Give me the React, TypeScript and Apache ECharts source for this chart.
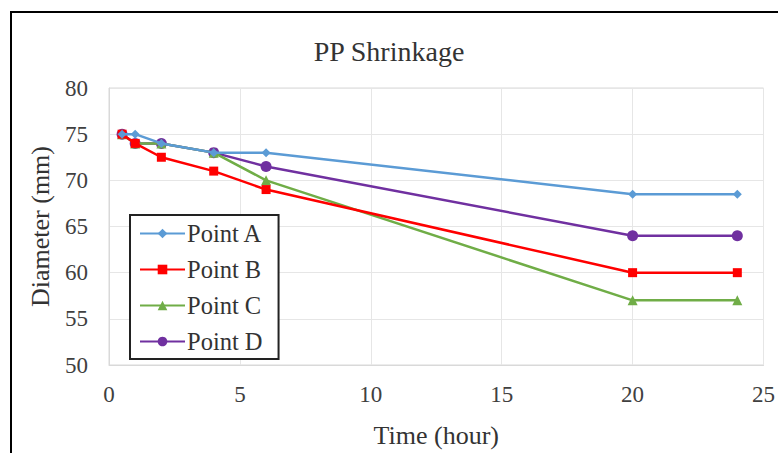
import React, { useEffect, useRef } from "react";
import * as echarts from "echarts";

const timeHours = [0.5, 1, 2, 4, 6, 20, 24];
const pointA = [75, 75, 74, 73, 73, 68.5, 68.5];
const pointB = [75, 74, 72.5, 71, 69, 60, 60];
const pointC = [75, 74, 74, 73, 70, 57, 57];
const pointD = [75, 74, 74, 73, 71.5, 64, 64];
const seriesNames = ["Point A", "Point B", "Point C", "Point D"];
const seriesColors = ["#5B9BD5", "#FF0000", "#70AD47", "#7030A0"];
const seriesSymbols = ["diamond", "rect", "triangle", "circle"];
const seriesSymbolSizes = [9, 9, 10, 11];

const FONT = "'Liberation Serif', 'Times New Roman', serif";

export default function App() {
  const ref = useRef<HTMLDivElement>(null);
  useEffect(() => {
    if (!ref.current) return;
    const chart = echarts.init(ref.current, null, { renderer: "svg" });
    const values = [pointA, pointB, pointC, pointD];
    chart.setOption({
      animation: false,
      backgroundColor: "#fff",
      title: {
        text: "PP Shrinkage",
        left: "center",
        top: 32,
        textStyle: { fontFamily: FONT, fontSize: 28, fontWeight: "normal", color: "#333" },
      },
      graphic: [
        {
          type: "rect",
          shape: { x: 11, y: 12, width: 820, height: 520 },
          style: { fill: "none", stroke: "#000", lineWidth: 2 },
          silent: true,
        },
      ],
      legend: {
        orient: "vertical",
        left: 130,
        top: 215,
        data: seriesNames,
        itemWidth: 45,
        itemHeight: 12,
        itemGap: 11,
        borderColor: "#222",
        borderWidth: 2,
        padding: [6, 16, 5, 9],
        backgroundColor: "#fff",
        textStyle: { fontFamily: FONT, fontSize: 24.5, color: "#333", padding: [0, 0, 0, -3] },
      },
      grid: {
        left: 109,
        right: 13,
        top: 88,
        bottom: 86,
        show: true,
        borderColor: "#d9d9d9",
        borderWidth: 1,
      },
      xAxis: {
        type: "value",
        min: 0,
        max: 25,
        interval: 5,
        name: "Time (hour)",
        nameLocation: "middle",
        nameGap: 57,
        nameTextStyle: { fontFamily: FONT, fontSize: 26, color: "#333" },
        axisLine: { show: true, lineStyle: { color: "#d9d9d9" } },
        axisTick: { show: false },
        axisLabel: { fontFamily: FONT, fontSize: 23, color: "#404040", margin: 18 },
        splitLine: { show: true, lineStyle: { color: "#e6e6e6" } },
      },
      yAxis: {
        type: "value",
        min: 50,
        max: 80,
        interval: 5,
        name: "Diameter (mm)",
        nameLocation: "middle",
        nameGap: 56,
        nameTextStyle: { fontFamily: FONT, fontSize: 26, color: "#333" },
        axisLine: { show: true, lineStyle: { color: "#d9d9d9" } },
        axisTick: { show: false },
        axisLabel: { fontFamily: FONT, fontSize: 23, color: "#404040", margin: 21 },
        splitLine: { show: true, lineStyle: { color: "#e6e6e6" } },
      },
      series: seriesNames.map((name, i) => ({
        name,
        type: "line",
        data: timeHours.map((t, j) => [t, values[i][j]]),
        symbol: seriesSymbols[i],
        symbolSize: seriesSymbolSizes[i],
        showAllSymbol: true,
        itemStyle: { color: seriesColors[i] },
        lineStyle: { color: seriesColors[i], width: 2.5 },
        z: 2 + (3 - i),
      })),
    });
    return () => chart.dispose();
  }, []);
  return (
    <div
      ref={ref}
      style={{ position: "absolute", left: 0, top: 0, width: 778, height: 453 }}
    />
  );
}
